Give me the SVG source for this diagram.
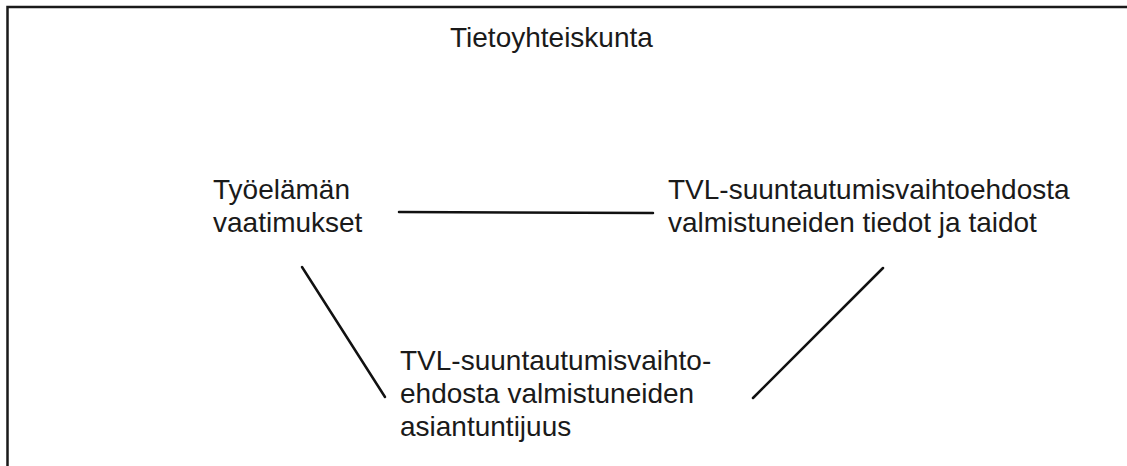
<svg xmlns="http://www.w3.org/2000/svg" width="1127" height="466" viewBox="0 0 1127 466">
  <style>
    .label { font-family: "Liberation Sans", Arial, sans-serif; font-size: 28px; fill: #1a1a1a; }
    .frame { fill: none; stroke: #1a1a1a; stroke-width: 2.5; }
    .link { stroke: #111; stroke-width: 2.5; stroke-linecap: round; fill: none; }
  </style>
  <rect x="0" y="0" width="1127" height="466" fill="#ffffff"/>

  <!-- outer frame: top and left edges -->
  <g id="frame">
    <path class="frame" d="M7.5,466 V7 H1127"/>
  </g>

  <g id="society">
    <text class="label" x="450" y="47">Tietoyhteiskunta</text>
  </g>

  <g id="work-requirements">
    <text class="label" x="213" y="199">Työelämän</text>
    <text class="label" x="213" y="232">vaatimukset</text>
  </g>

  <g id="graduate-skills">
    <text class="label" x="668" y="199">TVL-suuntautumisvaihtoehdosta</text>
    <text class="label" x="668" y="232">valmistuneiden tiedot ja taidot</text>
  </g>

  <g id="graduate-expertise">
    <text class="label" x="400" y="370">TVL-suuntautumisvaihto-</text>
    <text class="label" x="400" y="403">ehdosta valmistuneiden</text>
    <text class="label" x="400" y="436">asiantuntijuus</text>
  </g>

  <g id="connectors">
    <line class="link" x1="399" y1="212" x2="653" y2="213"/>
    <line class="link" x1="302" y1="267" x2="385" y2="397"/>
    <line class="link" x1="883" y1="268" x2="753" y2="398"/>
  </g>
</svg>
